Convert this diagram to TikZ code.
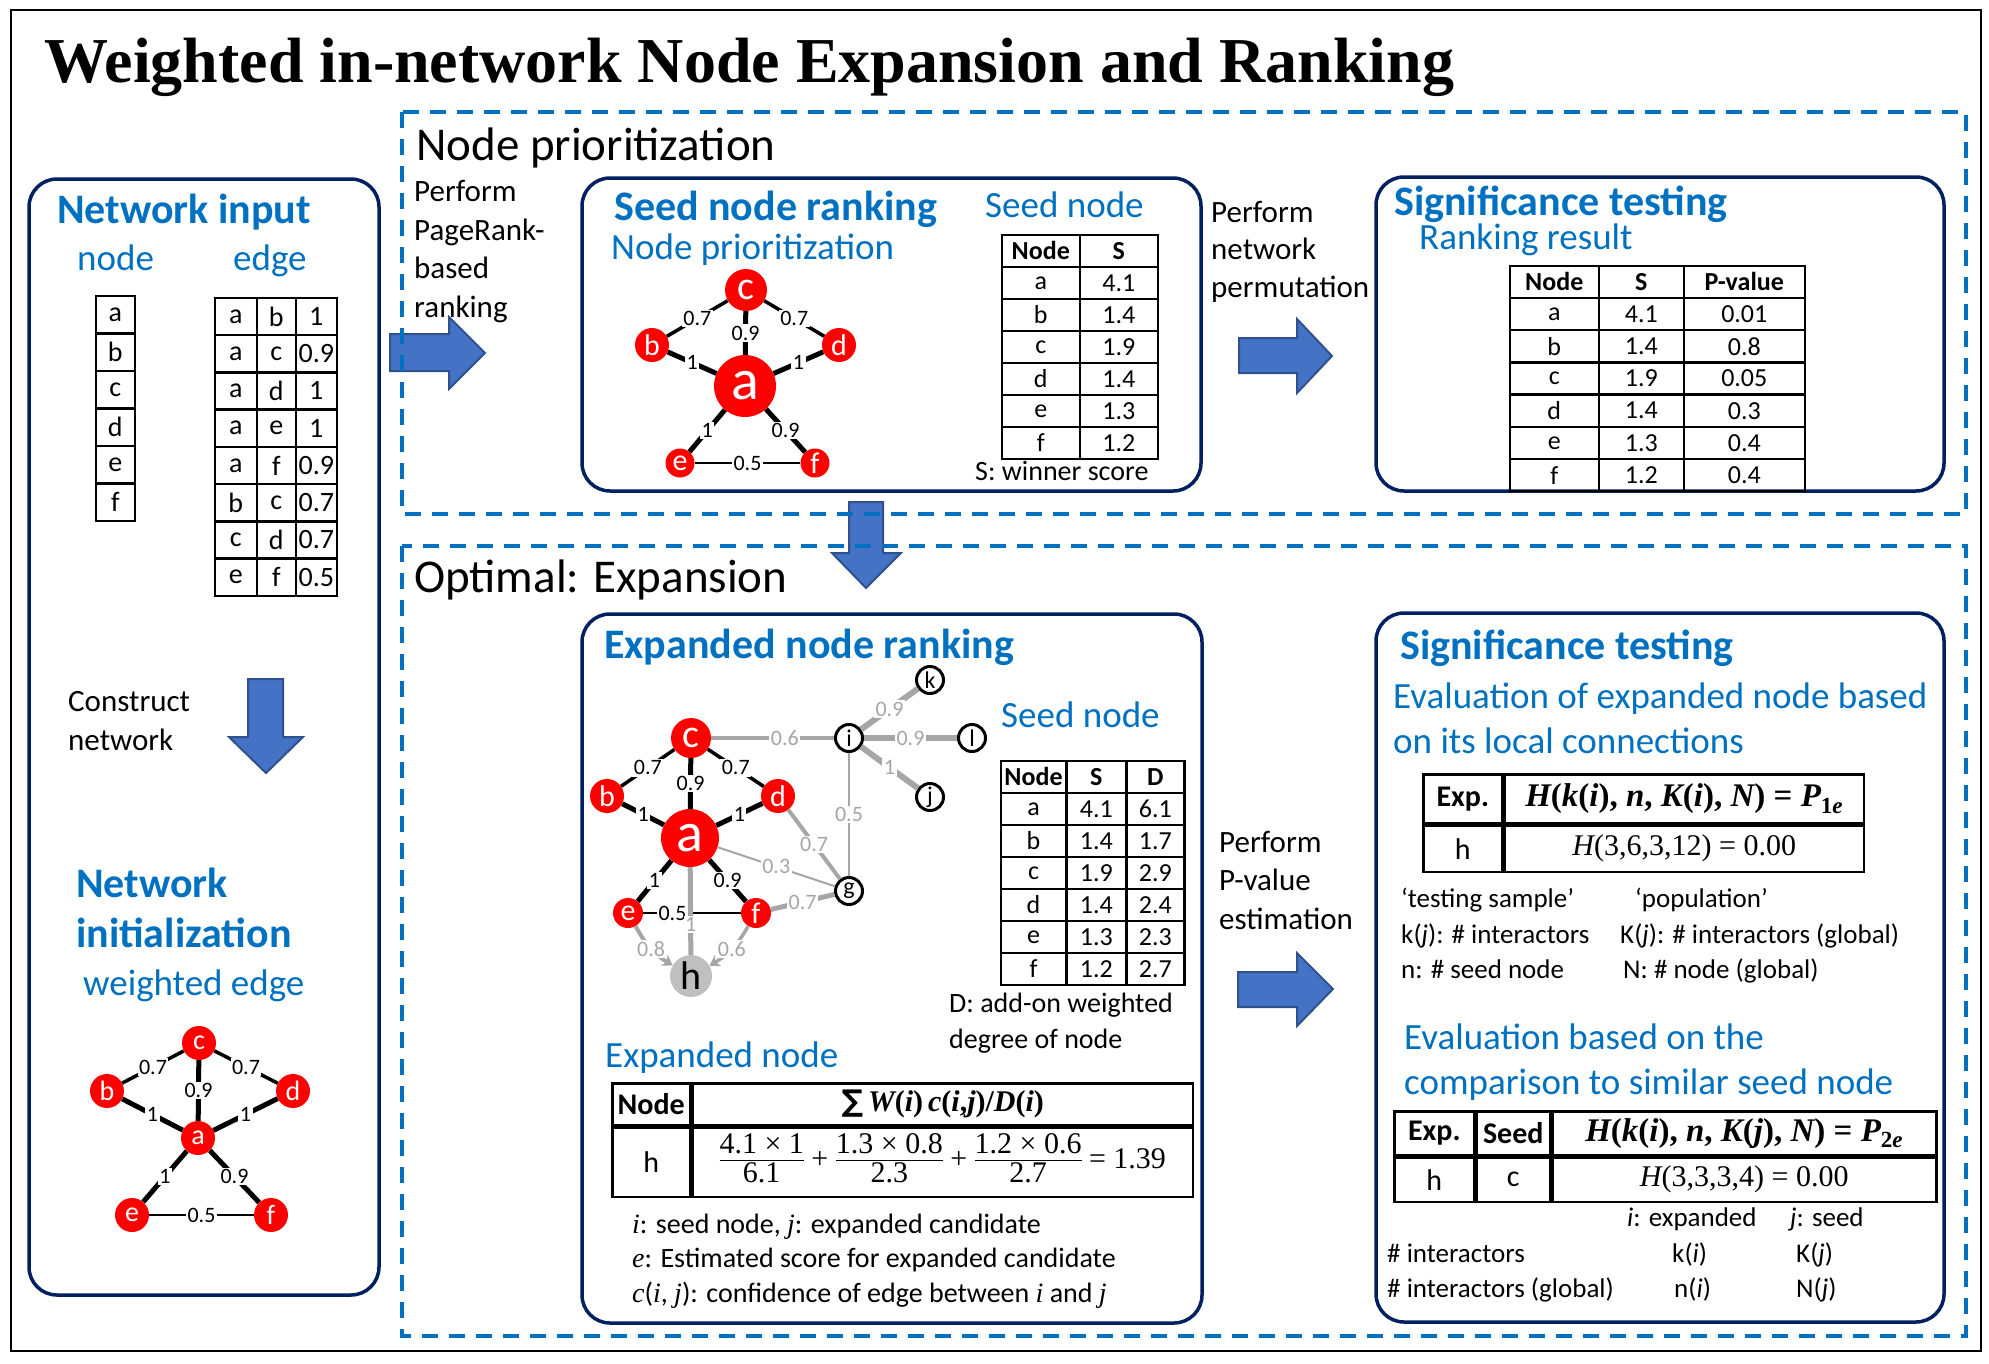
\documentclass[tikz,border=0pt]{standalone}
\usepackage{fontspec}
\setmainfont{Carlito}
\newfontfamily\titlefont{Liberation Serif}
\newfontfamily\formfont{Liberation Serif}
\newfontfamily\symfont{DejaVu Sans}
\usetikzlibrary{matrix}
\usetikzlibrary{arrows.meta}

\definecolor{boxnavy}{HTML}{002060}
\definecolor{textblue}{HTML}{0070C0}
\definecolor{dashblue}{HTML}{0070C0}
\definecolor{arrowfill}{HTML}{4472C4}
\definecolor{arrowline}{HTML}{2F528F}
\definecolor{edgegray}{HTML}{A6A6A6}
\definecolor{nodegray}{HTML}{BFBFBF}

\newcommand{\fsz}[2]{\fontsize{#1}{#2}\selectfont}
\newcommand{\vi}[1]{{\formfont\itshape #1}}
\newcommand{\vfrac}[2]{\begin{tabular}{@{}c@{}}#1\\[-3pt]\hline\rule{0pt}{23pt}#2\end{tabular}}

\tikzset{
  rbox/.style={draw=boxnavy, line width=3.5, rounded corners=28},
  dbox/.style={draw=dashblue, line width=4, dash pattern=on 16pt off 11pt},
  bigarrow/.style={fill=arrowfill, draw=arrowline, line width=2},
  hd/.style={anchor=base west, inner sep=0, text=textblue, font=\fsz{42}{50}\bfseries, align=left},
  sub/.style={anchor=base west, inner sep=0, text=textblue, font=\fsz{37}{45}, align=left},
  txt/.style={anchor=base west, inner sep=0, font=\fsz{31}{38.5}, align=left},
  note/.style={anchor=base west, inner sep=0, font=\fsz{28}{34.5}, align=left},
  small/.style={anchor=base west, inner sep=0, font=\fsz{27}{27}},
  rn/.style={circle, fill=red, text=white, inner sep=0, minimum size=#1},
  onode/.style={circle, draw, line width=3, fill=white, inner sep=0, minimum size=27, font=\fsz{24}{24}},
  ew/.style={line width=#1},
  ge/.style={draw=edgegray, line width=#1},
  lab/.style={fill=white, inner sep=1.5, font=\fsz{22}{22}},
  glab/.style={lab, text=edgegray},
  tab/.style={matrix of nodes, nodes in empty cells, column sep=-2.5pt, row sep=-2.5pt,
    anchor=north west,
    nodes={draw, line width=2.5, inner sep=0, anchor=center, minimum height=#1, font=\fsz{26}{26}}},
  cell/.style={draw, line width=2.5, inner sep=0, anchor=north west, font=\fsz{30}{30}},
}

\begin{document}
\begin{tikzpicture}[x=1pt, y=-1pt]
\useasboundingbox (0,0) rectangle (1989,1363);
\draw[line width=1.5] (11,10) rectangle (1981,1351);

\node (title) [anchor=base west, inner sep=0, font=\titlefont\fsz{64}{70}\bfseries] at (44,82)
  {Weighted in-network Node Expansion and Ranking};

% big arrows
\draw[bigarrow] (390,334) -- (449,334) -- (449,317) -- (485,353) -- (449,389) -- (449,371) -- (390,371) -- cycle;
\draw[bigarrow] (1239,338) -- (1297,338) -- (1297,319) -- (1332,356) -- (1297,393) -- (1297,373) -- (1239,373) -- cycle;
\draw[bigarrow] (1238,972) -- (1297,972) -- (1297,953) -- (1333,989) -- (1297,1026) -- (1297,1007) -- (1238,1007) -- cycle;
\draw[bigarrow] (248,679) -- (283,679) -- (283,737) -- (303,737) -- (266,773) -- (229,737) -- (248,737) -- cycle;
\draw[bigarrow] (849,502) -- (883,502) -- (883,553) -- (901,553) -- (866,588) -- (832,553) -- (849,553) -- cycle;

% dashed frames
\draw[dbox] (402,112) rectangle (1966,514);
\draw[dbox] (402,546) rectangle (1966,1336);

% rounded boxes
\draw[rbox] (29,179) rectangle (379,1295);
\draw[rbox] (582,178) rectangle (1201,491);
\draw[rbox] (1376,177) rectangle (1944,491);
\draw[rbox] (582,614) rectangle (1202,1323);
\draw[rbox] (1376,613) rectangle (1944,1322);

% network input
\node (netin) [hd] at (57,223) {Network input};
\node (nodehd) [sub] at (77,270) {node};
\node (edgehd) [sub] at (233,270) {edge};
\matrix (nodetab) [tab=37.5, column 1/.style={nodes={minimum width=39}}, nodes={font=\fsz{28}{28}}] at (91,291) {
  a \\ b \\ c \\ d \\ e \\ f \\
};
\matrix (edgetab) [tab=37.25, column 1/.style={nodes={minimum width=42}},
  column 2/.style={nodes={minimum width=39}}, column 3/.style={nodes={minimum width=41}},
  nodes={font=\fsz{28}{28}}] at (210,293) {
  a & b & 1 \\ a & c & 0.9 \\ a & d & 1 \\ a & e & 1 \\
  a & f & 0.9 \\ b & c & 0.7 \\ c & d & 0.7 \\ e & f & 0.5 \\
};
\node (construct) [txt] at (68,750) {Construct\\network};
\node (netinit) [hd] at (76,947) {Network\\initialization};
\node (wedge) [sub] at (83,995) {weighted edge};

% initial network
\node (wa) [rn=34, font=\fsz{28}{28}] at (198,1138) {a};
\node (wb) [rn=34, font=\fsz{28}{28}] at (107,1091) {b};
\node (wc) [rn=34, font=\fsz{28}{28}] at (199,1043) {c};
\node (wd) [rn=34, font=\fsz{28}{28}] at (293,1091) {d};
\node (we) [rn=34, font=\fsz{28}{28}] at (132,1215) {e};
\node (wf) [rn=34, font=\fsz{28}{28}] at (271,1215) {f};
\draw[ew=5] (wa) -- node[lab] {1} (wb);
\draw[ew=5] (wa) -- node[lab] {0.9} (wc);
\draw[ew=5] (wa) -- node[lab] {1} (wd);
\draw[ew=5] (wa) -- node[lab] {1} (we);
\draw[ew=5] (wa) -- node[lab] {0.9} (wf);
\draw[ew=3.5] (wb) -- node[lab] {0.7} (wc);
\draw[ew=3.5] (wc) -- node[lab] {0.7} (wd);
\draw[ew=1.8] (we) -- node[lab] {0.5} (wf);

% node prioritization
\node (priohd) [anchor=base west, inner sep=0, font=\fsz{47}{50}] at (416,160) {Node prioritization};
\node (pagerank) [txt] at (414,317) {Perform\\PageRank-\\based\\ranking};
\node (seedhd) [hd] at (614,220) {Seed node ranking};
\node (priosub) [sub] at (611,259) {Node prioritization};
\node (seedsub) [sub] at (985,217) {Seed node};
\matrix (seedtab) [tab=32, column 1/.style={nodes={minimum width=78}},
  column 2/.style={nodes={minimum width=78}}, row 1/.style={nodes={font=\fsz{26}{26}\bfseries}}] at (997,230) {
  Node & S \\ a & 4.1 \\ b & 1.4 \\ c & 1.9 \\ d & 1.4 \\ e & 1.3 \\ f & 1.2 \\
};
\node (winner) [note] at (975,480) {S: winner score};

\node (sa) [rn=62, font=\fsz{58}{58}] at (745,386) {a};
\node (sc) [rn=42, font=\fsz{40}{40}] at (746,290) {c};
\node (sb) [rn=34, font=\fsz{30}{30}] at (652,345) {b};
\node (sd) [rn=34, font=\fsz{30}{30}] at (839,345) {d};
\node (se) [rn=29, font=\fsz{30}{30}] at (680,463) {e};
\node (sf) [rn=29, font=\fsz{30}{30}] at (815,463) {f};
\draw[ew=5] (sa) -- node[lab] {1} (sb);
\draw[ew=5] (sa) -- node[lab] {0.9} (sc);
\draw[ew=5] (sa) -- node[lab] {1} (sd);
\draw[ew=5] (sa) -- node[lab] {1} (se);
\draw[ew=5] (sa) -- node[lab] {0.9} (sf);
\draw[ew=3.5] (sb) -- node[lab] {0.7} (sc);
\draw[ew=3.5] (sc) -- node[lab] {0.7} (sd);
\draw[ew=1.8] (se) -- node[lab] {0.5} (sf);

\node (permut) [txt, font=\fsz{31}{37.5}] at (1211,297) {Perform\\network\\permutation};
\node (sighd) [hd] at (1394,215) {Significance testing};
\node (rankres) [sub] at (1419,249) {Ranking result};
\matrix (sigtab) [tab=32.2, column 1/.style={nodes={minimum width=89}},
  column 2/.style={nodes={minimum width=85}}, column 3/.style={nodes={minimum width=121}},
  row 1/.style={nodes={font=\fsz{26}{26}\bfseries}}] at (1505,261) {
  Node & S & P-value \\ a & 4.1 & 0.01 \\ b & 1.4 & 0.8 \\ c & 1.9 & 0.05 \\
  d & 1.4 & 0.3 \\ e & 1.3 & 0.4 \\ f & 1.2 & 0.4 \\
};

% expansion
\node (exphd) [anchor=base west, inner sep=0, font=\fsz{47}{50}] at (414,592) {Optimal: Expansion};
\node (expnhd) [hd] at (604,658) {Expanded node ranking};

\node (xa) [rn=58, font=\fsz{56}{56}] at (690,838) {a};
\node (xc) [rn=40, font=\fsz{40}{40}] at (691,738) {c};
\node (xb) [rn=34, font=\fsz{30}{30}] at (607,796) {b};
\node (xd) [rn=34, font=\fsz{30}{30}] at (778,796) {d};
\node (xe) [rn=30, font=\fsz{30}{30}] at (628,913) {e};
\node (xf) [rn=30, font=\fsz{30}{30}] at (756,913) {f};
\node (xh) [circle, fill=nodegray, inner sep=0, minimum size=42, font=\fsz{40}{40}] at (691,976) {h};
\node (xi) [onode] at (849,738) {i};
\node (xk) [onode] at (930,680) {k};
\node (xl) [onode] at (972,738) {l};
\node (xj) [onode] at (930,797) {j};
\node (xg) [onode] at (849,891) {g};
\draw[ge=4] (xc) -- node[glab, pos=0.6] {0.6} (xi);
\draw[ge=6] (xi) -- node[glab] {0.9} (xk);
\draw[ge=6] (xi) -- node[glab] {0.9} (xl);
\draw[ge=6] (xi) -- node[glab] {1} (xj);
\draw[ge=2] (xi) -- node[glab] {0.5} (xg);
\draw[ge=4] (xd) -- node[glab] {0.7} (xg);
\draw[ge=2] (xa) -- node[glab] {0.3} (xg);
\draw[ge=5] (xf) -- node[glab] {0.7} (xg);
\draw[ew=1.8] (xe) -- node[lab, pos=0.3] {0.5} (xf);
\draw[ge=5] (xa) -- node[glab, pos=0.65] {1} (xh);
\draw[ge=4, -{Stealth[length=10pt, width=13pt]}] (xe) to[bend right=15] node[glab] {0.8} (xh);
\draw[ge=3.5, -{Stealth[length=10pt, width=13pt]}] (xf) to[bend left=15] node[glab] {0.6} (xh);
\draw[ew=5] (xa) -- node[lab] {1} (xb);
\draw[ew=5] (xa) -- node[lab] {0.9} (xc);
\draw[ew=5] (xa) -- node[lab] {1} (xd);
\draw[ew=5] (xa) -- node[lab] {1} (xe);
\draw[ew=5] (xa) -- node[lab] {0.9} (xf);
\draw[ew=3.5] (xb) -- node[lab] {0.7} (xc);
\draw[ew=3.5] (xc) -- node[lab] {0.7} (xd);

\node (seedsub2) [sub] at (1001,727) {Seed node};
\matrix (degtab) [tab=32, column 1/.style={nodes={minimum width=65.5}},
  column 2/.style={nodes={minimum width=60}}, column 3/.style={nodes={minimum width=58}},
  row 1/.style={nodes={font=\fsz{26}{26}\bfseries}}] at (996,756) {
  Node & S & D \\ a & 4.1 & 6.1 \\ b & 1.4 & 1.7 \\ c & 1.9 & 2.9 \\
  d & 1.4 & 2.4 \\ e & 1.3 & 2.3 \\ f & 1.2 & 2.7 \\
};
\node (addon) [note, font=\fsz{28}{36}] at (949,1048) {D: add-on weighted\\degree of node};

% expanded node score table
\node (expsub) [sub] at (605,1067) {Expanded node};
\node (fnode) [cell, minimum width=78, minimum height=42, font=\fsz{30}{30}\bfseries] at (611,1082) {Node};
\node (fhead) [cell, minimum width=500, minimum height=42, font=\formfont\fsz{30}{30}\bfseries] at (fnode.north east)
  {{\symfont ∑}\,\vi{W}(\vi{i})\,\vi{c}(\vi{i},\vi{j})/\vi{D}(\vi{i})};
\node (fh) [cell, minimum width=78, minimum height=69] at (fnode.south west) {h};
\node (fval) [cell, minimum width=500, minimum height=69, font=\formfont\fsz{30}{30}] at (fh.north east)
  {\vfrac{4.1 × 1}{6.1} + \vfrac{1.3 × 0.8}{2.3} + \vfrac{1.2 × 0.6}{2.7} = 1.39};
\node (legend) [note] at (632,1302) {\vi{i}: seed node, \vi{j}: expanded candidate\\
  \vi{e}: Estimated score for expanded candidate\\
  \vi{c}(\vi{i}, \vi{j}): confidence of edge between \vi{i} and \vi{j}};

% significance of expansion
\node (pvalue) [txt] at (1219,929) {Perform\\P-value\\estimation};
\node (sighd2) [hd] at (1400,659) {Significance testing};
\node (evalone) [sub] at (1393,753) {Evaluation of expanded node based\\on its local connections};
\node (oexp) [cell, minimum width=79, minimum height=49, font=\fsz{30}{30}\bfseries] at (1422,773) {Exp.};
\node (ohead) [cell, minimum width=359, minimum height=49, font=\formfont\fsz{33}{33}\bfseries] at (oexp.north east)
  {\vi{H}(\vi{k}(\vi{i}), \vi{n}, \vi{K}(\vi{i}), \vi{N}) = \vi{P}\textsubscript{1\vi{e}}};
\node (oh) [cell, minimum width=79, minimum height=46] at (oexp.south west) {h};
\node (oval) [cell, minimum width=359, minimum height=46, font=\formfont\fsz{30}{30}] at (oh.north east)
  {\vi{H}(3,6,3,12) = 0.00};
\node (sample) [small] at (1401,907) {`testing sample'};
\node (popul) [small] at (1635,907) {`population'};
\node (kj) [small] at (1401,943) {k(\textit{j}): \# interactors};
\node (Kj) [small] at (1620,943) {K(\textit{j}): \# interactors (global)};
\node (nseed) [small] at (1401,978) {n: \# seed node};
\node (Nnode) [small] at (1623,978) {N: \# node (global)};

\node (evaltwo) [sub] at (1404,1094) {Evaluation based on the\\comparison to similar seed node};
\node (texp) [cell, minimum width=80, minimum height=44, font=\fsz{30}{30}\bfseries] at (1393,1110) {Exp.};
\node (tseed) [cell, minimum width=73, minimum height=44, font=\fsz{30}{30}\bfseries] at (texp.north east) {Seed};
\node (thead) [cell, minimum width=384, minimum height=44, font=\formfont\fsz{33}{33}\bfseries] at (tseed.north east)
  {\vi{H}(\vi{k}(\vi{i}), \vi{n}, \vi{K}(\vi{j}), \vi{N}) = \vi{P}\textsubscript{2\vi{e}}};
\node (th) [cell, minimum width=80, minimum height=44] at (texp.south west) {h};
\node (tc) [cell, minimum width=73, minimum height=44] at (th.north east) {c};
\node (tval) [cell, minimum width=384, minimum height=44, font=\formfont\fsz{30}{30}] at (tc.north east)
  {\vi{H}(3,3,3,4) = 0.00};
\node (iexp) [small] at (1627,1226) {\textit{i}: expanded};
\node (jseed) [small] at (1790,1226) {\textit{j}: seed};
\node (inter) [small] at (1387,1262) {\# interactors};
\node (ki) [small] at (1672,1262) {k(\textit{i})};
\node (Kj2) [small] at (1796,1262) {K(\textit{j})};
\node (interg) [small] at (1387,1297) {\# interactors (global)};
\node (ni) [small] at (1674,1297) {n(\textit{i})};
\node (Nj) [small] at (1796,1297) {N(\textit{j})};
\end{tikzpicture}
\end{document}
